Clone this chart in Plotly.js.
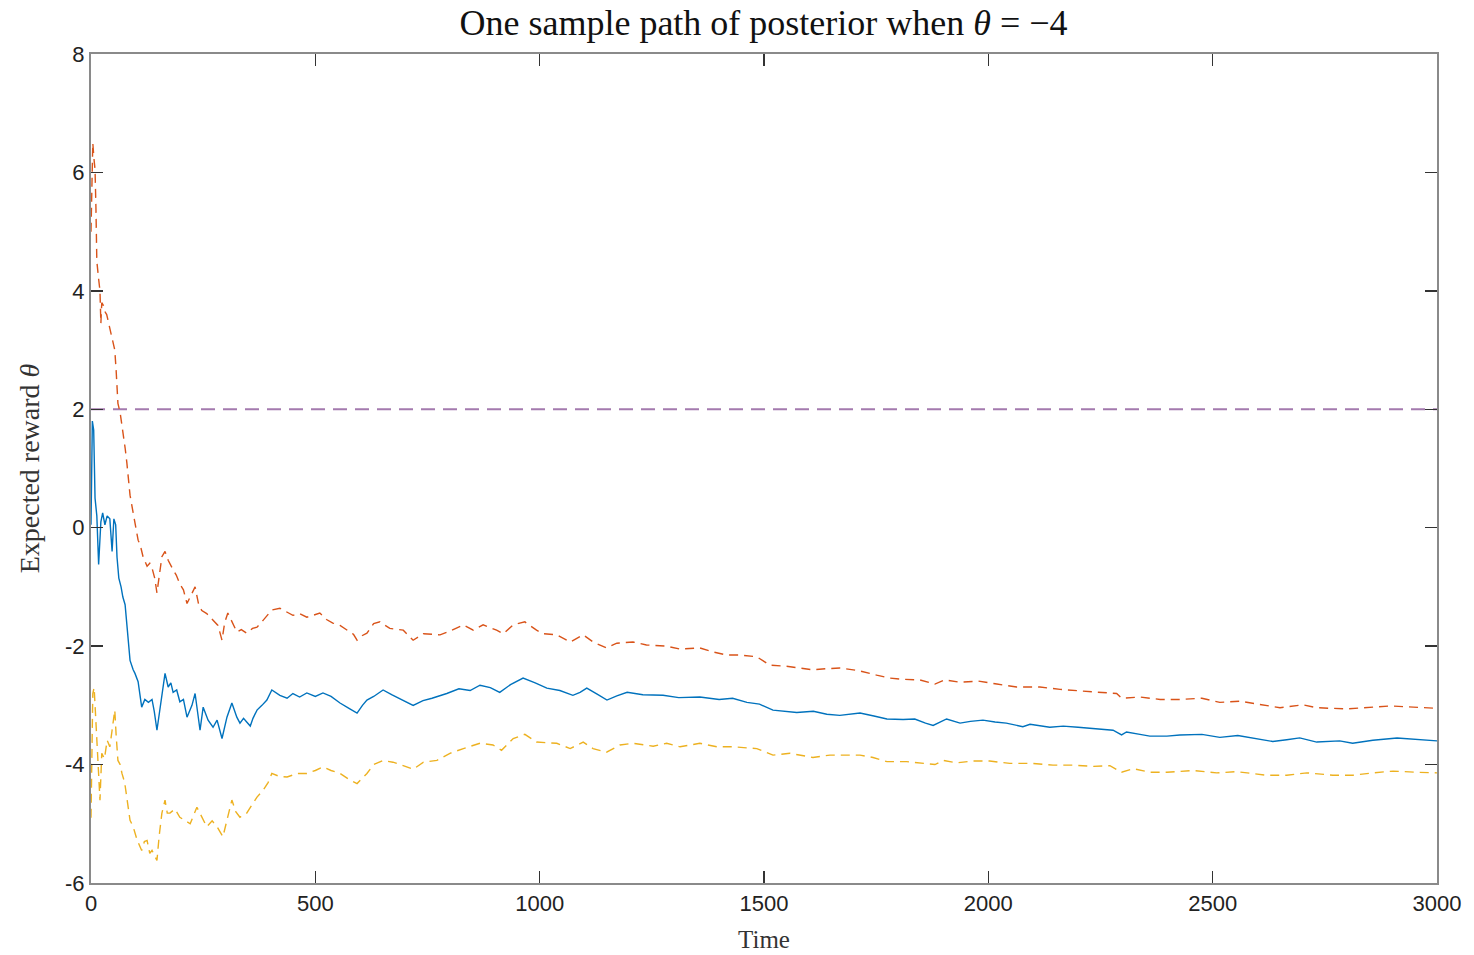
<!DOCTYPE html>
<html>
<head>
<meta charset="utf-8">
<script src="https://cdn.plot.ly/plotly-3.0.1.min.js"></script>
<style>html,body{margin:0;padding:0;background:#fff;}#chart{width:1474px;height:955px;}</style>
</head>
<body>
<div id="chart"></div>
<script>
// Posterior mean (blue, solid)
const meanT = [0,3,6,9,13,17,22,26,31,36,42,47,51,55,58,62,67,71,76,80,83,87,94,98,105,113,120,128,136,141,147,154,160,165,172,178,183,191,198,206,214,225,232,243,250,261,272,281,292,303,314,325,332,340,347,355,361,370,381,392,403,421,437,450,465,481,500,517,535,555,575,593,605,615,630,651,670,690,718,740,760,793,820,845,867,890,911,935,963,990,1016,1045,1074,1090,1105,1130,1150,1172,1195,1230,1275,1310,1357,1400,1430,1462,1490,1520,1550,1573,1610,1640,1669,1714,1745,1774,1810,1836,1860,1877,1907,1937,1960,1988,2015,2040,2077,2093,2137,2167,2200,2234,2278,2297,2308,2338,2360,2398,2427,2476,2516,2556,2598,2634,2665,2694,2732,2783,2812,2857,2911,2955,3000];
const meanV = [0.05,1.8,1.65,0.5,0.2,-0.62,0.1,0.25,0.05,0.2,0.15,-0.4,0.15,0.05,-0.5,-0.85,-1.0,-1.17,-1.3,-1.6,-1.9,-2.24,-2.4,-2.46,-2.6,-3.03,-2.9,-2.95,-2.9,-3.1,-3.42,-3.03,-2.7,-2.46,-2.69,-2.62,-2.78,-2.74,-2.94,-2.9,-3.2,-3.0,-2.8,-3.42,-3.03,-3.25,-3.37,-3.25,-3.56,-3.2,-2.96,-3.2,-3.3,-3.22,-3.28,-3.35,-3.22,-3.08,-3.0,-2.91,-2.74,-2.83,-2.88,-2.8,-2.86,-2.79,-2.85,-2.79,-2.85,-2.96,-3.05,-3.13,-3.0,-2.91,-2.85,-2.74,-2.82,-2.9,-3.0,-2.92,-2.88,-2.8,-2.72,-2.75,-2.66,-2.7,-2.78,-2.65,-2.54,-2.62,-2.71,-2.75,-2.83,-2.78,-2.71,-2.82,-2.91,-2.84,-2.78,-2.82,-2.83,-2.87,-2.86,-2.9,-2.88,-2.95,-2.98,-3.08,-3.1,-3.12,-3.1,-3.15,-3.17,-3.13,-3.18,-3.23,-3.24,-3.23,-3.3,-3.34,-3.23,-3.3,-3.27,-3.25,-3.28,-3.3,-3.36,-3.32,-3.37,-3.35,-3.37,-3.39,-3.42,-3.5,-3.45,-3.49,-3.52,-3.52,-3.5,-3.49,-3.54,-3.51,-3.57,-3.61,-3.58,-3.55,-3.62,-3.6,-3.64,-3.59,-3.55,-3.57,-3.6];

// Upper band (orange, dashed)
const upperT = [0,2,4,7,9,11,13,17,20,22,24,28,31,35,38,43,47,50,53,56,60,65,71,76,80,87,94,100,105,110,116,125,131,136,142,147,152,158,165,172,183,190,198,206,214,222,232,240,247,258,272,283,292,298,305,315,325,335,347,360,370,384,395,403,421,435,450,465,481,495,510,525,539,555,570,585,593,605,615,630,644,655,666,696,718,741,778,804,830,852,874,904,919,941,967,993,1008,1038,1068,1097,1119,1149,1172,1208,1238,1283,1313,1357,1387,1417,1446,1484,1513,1550,1580,1609,1640,1669,1699,1714,1751,1781,1810,1847,1881,1903,1937,1977,2019,2063,2115,2160,2211,2256,2286,2297,2338,2383,2427,2476,2516,2561,2598,2650,2701,2732,2799,2850,2895,2947,3000];
const upperV = [5.0,5.8,6.5,6.2,6.05,5.4,4.5,4.2,4.0,3.45,3.8,3.75,3.65,3.6,3.5,3.35,3.17,3.1,3.0,2.66,2.1,1.94,1.65,1.35,1.09,0.55,0.25,0.0,-0.21,-0.3,-0.49,-0.65,-0.6,-0.68,-0.85,-1.1,-0.8,-0.49,-0.4,-0.55,-0.71,-0.8,-0.95,-1.05,-1.28,-1.15,-1.0,-1.3,-1.4,-1.45,-1.56,-1.65,-1.9,-1.6,-1.44,-1.6,-1.76,-1.72,-1.78,-1.7,-1.68,-1.56,-1.45,-1.39,-1.36,-1.42,-1.48,-1.45,-1.51,-1.48,-1.44,-1.55,-1.61,-1.65,-1.73,-1.8,-1.9,-1.82,-1.78,-1.62,-1.59,-1.65,-1.7,-1.73,-1.9,-1.79,-1.81,-1.73,-1.64,-1.73,-1.64,-1.73,-1.79,-1.64,-1.59,-1.73,-1.79,-1.81,-1.93,-1.81,-1.93,-2.03,-1.95,-1.93,-1.98,-2.0,-2.05,-2.03,-2.1,-2.15,-2.15,-2.18,-2.32,-2.34,-2.37,-2.4,-2.38,-2.37,-2.4,-2.42,-2.49,-2.54,-2.56,-2.57,-2.64,-2.57,-2.61,-2.59,-2.64,-2.69,-2.69,-2.73,-2.76,-2.78,-2.8,-2.88,-2.86,-2.9,-2.9,-2.88,-2.95,-2.93,-2.98,-3.04,-2.99,-3.04,-3.06,-3.03,-3.01,-3.03,-3.05];

// Lower band (yellow, dashed)
const lowerT = [0,2,4,7,9,13,17,20,24,30,36,42,47,53,56,60,65,69,75,80,87,94,103,113,119,125,131,136,142,147,152,158,165,170,176,187,198,210,221,236,247,258,270,281,294,304,314,323,332,347,358,370,384,395,403,420,437,460,481,500,517,535,555,575,593,605,615,630,651,673,690,718,741,771,800,830,867,896,915,941,967,993,1038,1068,1097,1119,1149,1179,1208,1253,1283,1313,1357,1395,1431,1484,1520,1558,1609,1647,1684,1714,1743,1774,1818,1854,1881,1899,1930,1966,2003,2048,2099,2144,2189,2234,2271,2297,2323,2360,2398,2457,2509,2554,2620,2665,2710,2768,2812,2857,2902,2955,3000];
const lowerV = [-4.9,-3.5,-2.8,-2.7,-3.03,-3.7,-4.2,-4.6,-3.81,-3.9,-3.59,-3.7,-3.42,-3.08,-3.5,-3.93,-4.0,-4.15,-4.3,-4.55,-4.94,-5.05,-5.28,-5.45,-5.3,-5.28,-5.5,-5.45,-5.55,-5.62,-5.2,-4.82,-4.6,-4.82,-4.82,-4.75,-4.89,-4.95,-5.0,-4.72,-4.9,-5.05,-4.95,-5.05,-5.22,-4.9,-4.6,-4.8,-4.89,-4.82,-4.7,-4.55,-4.43,-4.3,-4.15,-4.2,-4.21,-4.15,-4.15,-4.1,-4.04,-4.1,-4.15,-4.25,-4.32,-4.22,-4.15,-4.0,-3.93,-3.96,-4.0,-4.08,-3.96,-3.93,-3.81,-3.73,-3.64,-3.67,-3.76,-3.56,-3.49,-3.62,-3.64,-3.73,-3.62,-3.73,-3.79,-3.67,-3.64,-3.69,-3.64,-3.7,-3.64,-3.7,-3.7,-3.73,-3.84,-3.81,-3.88,-3.84,-3.84,-3.84,-3.88,-3.95,-3.95,-3.98,-4.0,-3.93,-3.97,-3.94,-3.94,-3.98,-3.98,-4.01,-4.01,-4.03,-4.02,-4.13,-4.07,-4.13,-4.13,-4.1,-4.14,-4.12,-4.18,-4.18,-4.14,-4.18,-4.18,-4.14,-4.11,-4.13,-4.14];

// Reference level (purple, dashed)
const refT = [0, 3000];
const refV = [2, 2];

const xTicks = [0, 500, 1000, 1500, 2000, 2500, 3000];
const yTicks = [8, 6, 4, 2, 0, -2, -4, -6];
const yTickText = ["8", "6", "4", "2", "0", "-2", "-4", "-6"];

const traces = [
  {x: refT, y: refV, type: 'scatter', mode: 'lines', line: {color: '#A47AAE', width: 2, dash: '14px,8px'}},
  {x: upperT, y: upperV, type: 'scatter', mode: 'lines', line: {color: '#D95319', width: 1.4, dash: '9px,6px'}},
  {x: lowerT, y: lowerV, type: 'scatter', mode: 'lines', line: {color: '#EDB120', width: 1.4, dash: '9px,6px'}},
  {x: meanT, y: meanV, type: 'scatter', mode: 'lines', line: {color: '#0072BD', width: 1.4}}
];

const axisCommon = {
  showline: true, linecolor: '#8a8a8a', linewidth: 2,
  mirror: 'ticks', ticks: 'inside', ticklen: 12, tickwidth: 1.3, tickcolor: '#333333',
  showgrid: false, zeroline: false,
  tickfont: {family: 'Liberation Sans, Arial, sans-serif', size: 22, color: '#222222'}
};

const layout = {
  width: 1474, height: 955,
  paper_bgcolor: '#ffffff', plot_bgcolor: '#ffffff',
  showlegend: false,
  margin: {l: 91, r: 37, t: 54, b: 72},
  title: {text: 'One sample path of posterior when <i>θ</i> = −4', x: 0.518, xanchor: 'center', y: 0.977, yanchor: 'middle',
    font: {family: 'Liberation Serif, DejaVu Serif, serif', size: 36, color: '#111111'}},
  xaxis: Object.assign({}, axisCommon, {
    range: [0, 3000], tickvals: xTicks,
    title: {text: 'Time', standoff: 15, font: {family: 'Liberation Serif, DejaVu Serif, serif', size: 25, color: '#333333'}}
  }),
  yaxis: Object.assign({}, axisCommon, {
    range: [-6, 8], tickvals: yTicks, ticktext: yTickText,
    title: {text: 'Expected reward <i>θ</i>', standoff: 17, font: {family: 'Liberation Serif, DejaVu Serif, serif', size: 28, color: '#333333'}}
  })
};

Plotly.newPlot('chart', traces, layout, {staticPlot: true, displayModeBar: false});
</script>
</body>
</html>
